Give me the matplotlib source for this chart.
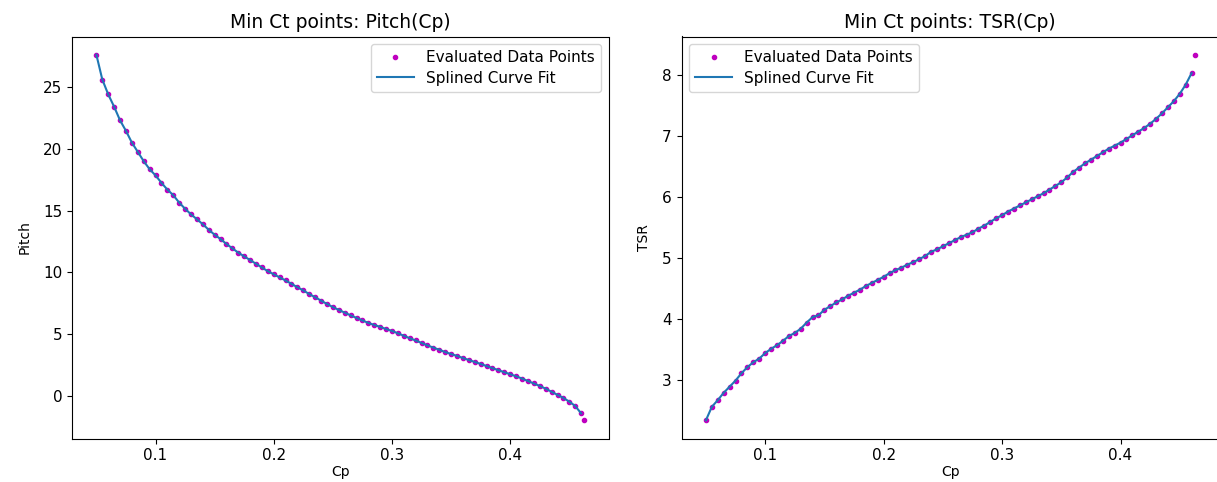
import matplotlib
matplotlib.use('Agg')
import matplotlib.pyplot as plt

plt.rcParams.update({'font.size': 11, 'legend.fontsize': 11,
                     'axes.labelsize': 10})

# Evaluated min-Ct points
cp = [0.050, 0.055, 0.060, 0.065, 0.070, 0.075, 0.080, 0.085, 0.090, 0.095,
      0.100, 0.105, 0.110, 0.115, 0.120, 0.125, 0.130, 0.135, 0.140, 0.145,
      0.150, 0.155, 0.160, 0.165, 0.170, 0.175, 0.180, 0.185, 0.190, 0.195,
      0.200, 0.205, 0.210, 0.215, 0.220, 0.225, 0.230, 0.235, 0.240, 0.245,
      0.250, 0.255, 0.260, 0.265, 0.270, 0.275, 0.280, 0.285, 0.290, 0.295,
      0.300, 0.305, 0.310, 0.315, 0.320, 0.325, 0.330, 0.335, 0.340, 0.345,
      0.350, 0.355, 0.360, 0.365, 0.370, 0.375, 0.380, 0.385, 0.390, 0.395,
      0.400, 0.405, 0.410, 0.415, 0.420, 0.425, 0.430, 0.435, 0.440, 0.445,
      0.450, 0.455, 0.460, 0.4625]

pitch = [27.6, 25.6, 24.4, 23.4, 22.3, 21.45, 20.5, 19.75, 19.0, 18.35,
         17.85, 17.25, 16.7, 16.25, 15.65, 15.15, 14.7, 14.3, 13.9, 13.45,
         13.05, 12.7, 12.3, 11.95, 11.6, 11.3, 11.0, 10.7, 10.4, 10.1,
         9.85, 9.6, 9.35, 9.08, 8.8, 8.55, 8.25, 8.0, 7.72, 7.45,
         7.2, 6.97, 6.75, 6.53, 6.32, 6.12, 5.92, 5.75, 5.6, 5.42,
         5.27, 5.08, 4.88, 4.68, 4.5, 4.3, 4.1, 3.92, 3.75, 3.56,
         3.4, 3.25, 3.08, 2.92, 2.76, 2.6, 2.43, 2.26, 2.1, 1.93,
         1.77, 1.6, 1.42, 1.22, 1.02, 0.82, 0.6, 0.35, 0.1, -0.15,
         -0.45, -0.8, -1.4, -1.95]

tsr = [2.34, 2.56, 2.67, 2.79, 2.89, 2.99, 3.11, 3.21, 3.29, 3.35,
       3.44, 3.51, 3.57, 3.64, 3.72, 3.77, 3.84, 3.94, 4.03, 4.06,
       4.15, 4.21, 4.27, 4.32, 4.38, 4.43, 4.48, 4.54, 4.59, 4.64,
       4.69, 4.75, 4.80, 4.84, 4.89, 4.93, 4.98, 5.03, 5.10, 5.14,
       5.19, 5.24, 5.29, 5.34, 5.38, 5.42, 5.48, 5.53, 5.59, 5.65,
       5.70, 5.76, 5.81, 5.86, 5.91, 5.96, 6.01, 6.06, 6.12, 6.18,
       6.24, 6.32, 6.41, 6.48, 6.55, 6.61, 6.67, 6.73, 6.79, 6.84,
       6.89, 6.95, 7.01, 7.07, 7.13, 7.20, 7.28, 7.37, 7.47, 7.57,
       7.69, 7.84, 8.03, 8.33]


fig = plt.figure(figsize=(12.17, 4.82), dpi=100)
W, H = 1217.0, 482.0
ax1 = fig.add_axes([72/W, (H-438.5)/H, (608.5-72)/W, (438.5-36.5)/H])
ax2 = fig.add_axes([681.5/W, (H-438.5)/H, (1219-681.5)/W, (438.5-36.5)/H])

# left: pitch
ax1.plot(cp, pitch, 'm.', label='Evaluated Data Points')
ax1.plot(cp[:-1], pitch[:-1], label='Splined Curve Fit')
ax1.set_title('Min Ct points: Pitch(Cp)', fontsize=13.5)
ax1.set_xlabel('Cp', labelpad=1)
ax1.set_ylabel('Pitch', labelpad=8)
ax1.set_xticks([0.1, 0.2, 0.3, 0.4])
ax1.legend(loc='upper right', handlelength=2.4, labelspacing=0.35)

# right: TSR
ax2.plot(cp, tsr, 'm.', label='Evaluated Data Points')
ax2.plot(cp[:-1], tsr[:-1], label='Splined Curve Fit')
ax2.set_title('Min Ct points: TSR(Cp)', fontsize=13.5)
ax2.set_xlabel('Cp', labelpad=1)
ax2.set_ylabel('TSR', labelpad=8)
ax2.set_xticks([0.1, 0.2, 0.3, 0.4])
ax2.legend(loc='upper left', handlelength=2.4, labelspacing=0.35)

plt.savefig('out.png', dpi=100)
